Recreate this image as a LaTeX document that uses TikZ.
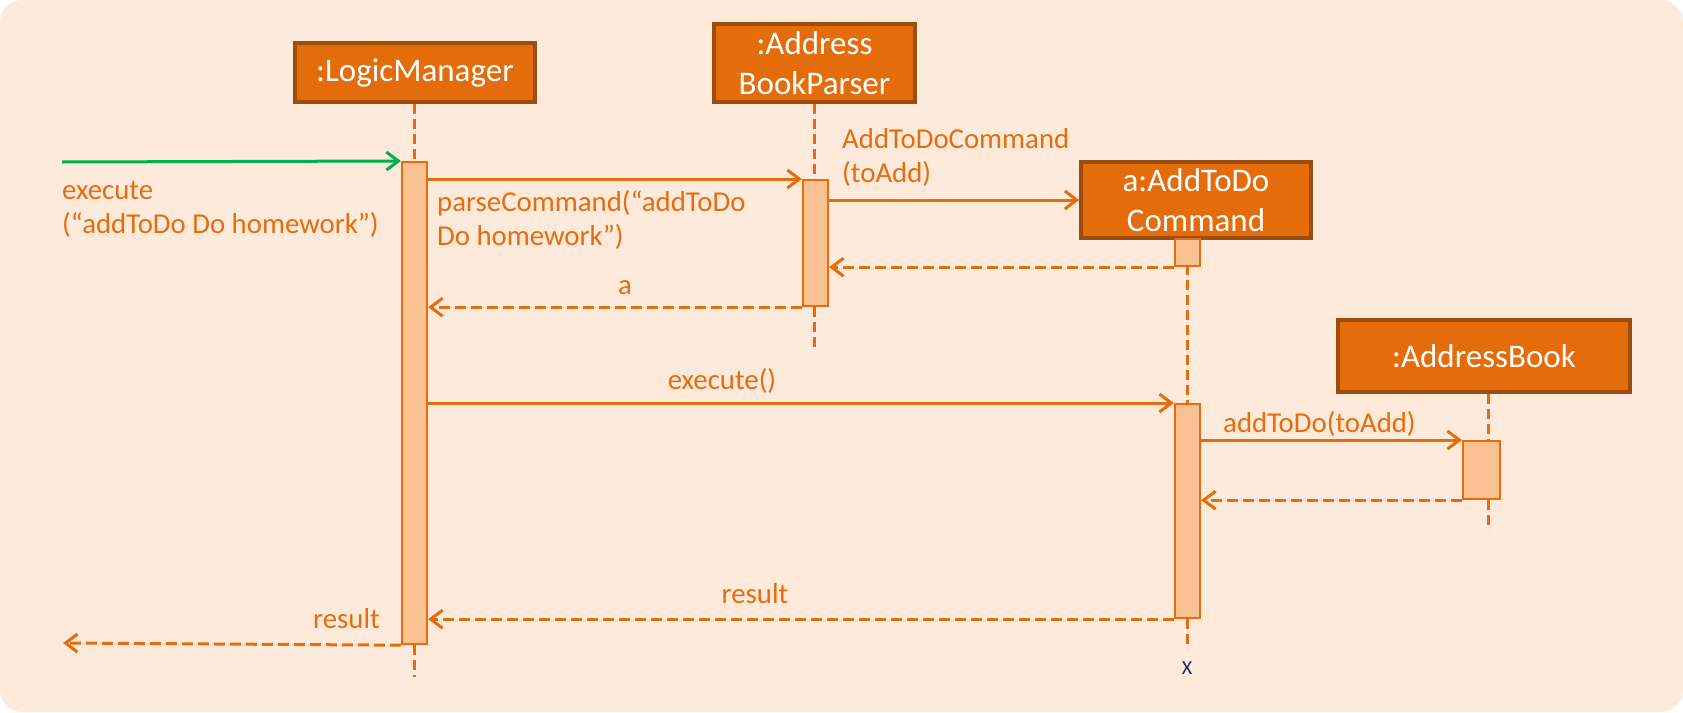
\documentclass[tikz,border=0pt]{standalone}
\usepackage{fontspec}
\setmainfont{Carlito}
\usetikzlibrary{arrows.meta}

\definecolor{bgpeach}{RGB}{253,234,218}
\definecolor{boxorange}{RGB}{228,108,10}
\definecolor{boxedge}{RGB}{158,78,12}
\definecolor{actfill}{RGB}{249,192,145}
\definecolor{msgorange}{RGB}{229,109,15}
\definecolor{callgreen}{RGB}{0,176,80}
\definecolor{killblue}{RGB}{20,40,100}

\begin{document}
\begin{tikzpicture}[x=1pt,y=-1pt]

\tikzstyle{obj} = [draw=boxedge, line width=3.5pt, fill=boxorange, text=white, align=center, inner sep=0pt, font=\fontsize{33}{40}\selectfont]
\tikzstyle{act} = [draw=msgorange, line width=2.2pt, fill=actfill, anchor=north, minimum width=25pt, inner sep=0pt]
\tikzstyle{life} = [draw=msgorange, line width=3pt, dash pattern=on 10pt off 5pt]
\tikzstyle{msg} = [draw=msgorange, line width=3pt, -{Straight Barb[length=12pt,width=18pt]}]
\tikzstyle{ret} = [msg, dash pattern=on 11pt off 5pt]
\tikzstyle{lbl} = [text=msgorange, align=left, inner sep=0pt, font=\fontsize{28.8}{34}\selectfont]

\fill[bgpeach, rounded corners=22pt] (0,0) rectangle (1683,712);
\useasboundingbox (0,0) rectangle (1683,712);

\node[obj, minimum width=240pt, minimum height=59pt] (lm) at (415,72.5) {:LogicManager};
\node[obj, minimum width=201pt, minimum height=78pt] (abp) at (814.5,63) {:Address\\BookParser};
\node[obj, minimum width=230pt, minimum height=76pt] (cmd) at (1196,200) {a:AddToDo\\Command};
\node[obj, minimum width=292pt, minimum height=72pt] (ab) at (1484,356) {:AddressBook};

%lifelines
\draw[life] (lm.south -| 414.5,0) -- (414.5,161);
\draw[life] (abp.south) -- (abp.south |- 0,179);
\draw[life] (1187.5,265) -- (1187.5,403);
\draw[life] (ab.south -| 1488,0) -- (1488,440);

\node[act, minimum height=482pt] (lmact) at (414.5,161) {};
\node[act, minimum height=126pt] (abpact) at (815.5,179) {};
\node[act, minimum height=27pt] (cmdact) at (1187.5,238) {};
\node[act, minimum height=214pt] (cmdrun) at (1187.5,403) {};
\node[act, minimum width=37pt, minimum height=58pt] (abact) at (1481.5,440) {};

\draw[life] (lmact.south) -- ++(0,32);
\draw[life] (abpact.south -| abp.south) -- ++(0,42);
\draw[life] (cmdrun.south) -- ++(0,30);
\draw[life] (abact.south -| 1488,0) -- ++(0,30);
\node[text=killblue, inner sep=0pt, font=\fontsize{20}{20}\selectfont] (kill) at (1187,668) {X};

%arrows
\coordinate (caller) at (62,162);
\coordinate (back) at (63,643);
\draw[msg, draw=callgreen] (caller) -- (lmact.north west);
\draw[msg] (lmact.east |- abpact.north) -- (abpact.north west);
\draw[msg] (abpact.east |- cmd.west) -- (cmd.west);
\draw[ret] (cmdact.south west) -- (abpact.east |- cmdact.south);
\draw[ret] (abpact.south west) -- (lmact.east |- abpact.south);
\draw[msg] (lmact.east |- cmdrun.north) -- (cmdrun.north west);
\draw[msg] (cmdrun.east |- abact.north) -- (abact.north west);
\draw[ret] (abact.south west) -- (cmdrun.east |- abact.south);
\draw[ret] (cmdrun.south west) -- (lmact.east |- cmdrun.south);
\draw[ret] (lmact.south west) -- (back);

%labels
\node[lbl, anchor=base west] (execlbl) at (62,233) {execute\\(“addToDo Do homework”)};
\node[lbl, anchor=base west] (parselbl) at (437,245) {parseCommand(“addToDo\\Do homework”)};
\node[lbl, anchor=base west] (newlbl) at (842,182) {AddToDoCommand\\(toAdd)};
\node[lbl, anchor=base] (albl) at (625,294) {a};
\node[lbl, anchor=base] (runlbl) at (722,389) {execute()};
\node[lbl, anchor=base west] (addlbl) at (1223,432) {addToDo(toAdd)};
\node[lbl, anchor=base] (reslbl) at (755,603) {result};
\node[lbl, anchor=base east] (outlbl) at (380,628) {result};
\end{tikzpicture}
\end{document}
